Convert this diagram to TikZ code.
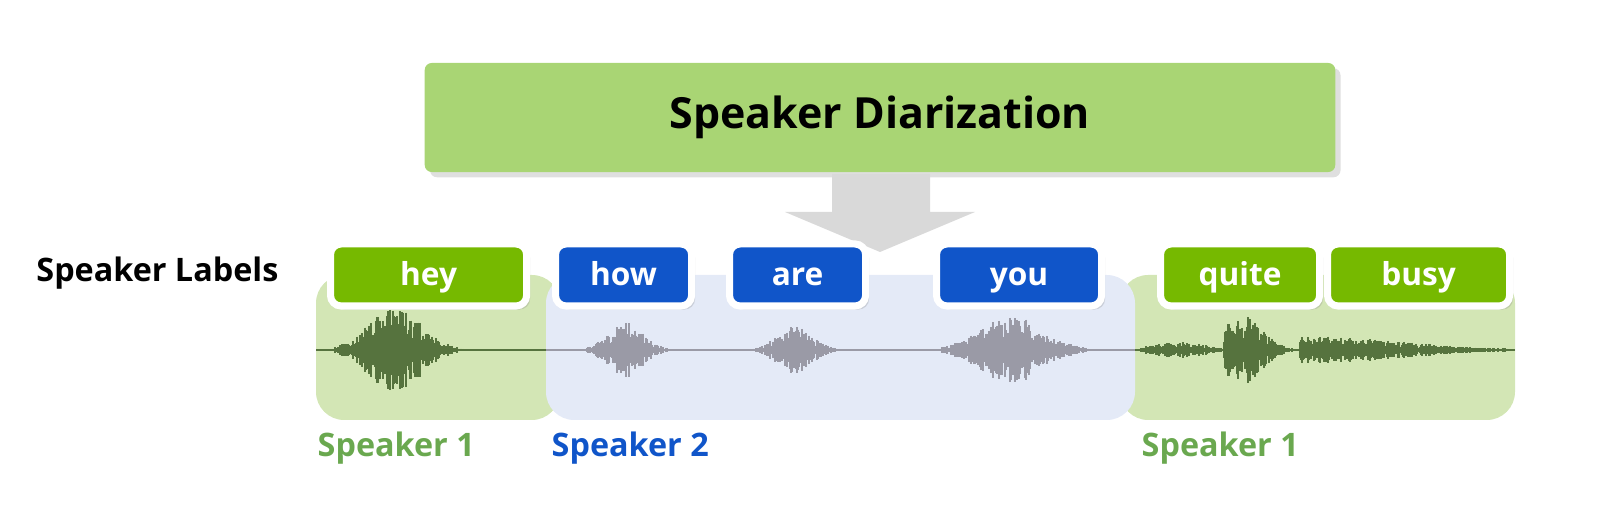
\documentclass[tikz,border=0pt]{standalone}
\usepackage{fontspec}
\setmainfont{Open Sans}
\usetikzlibrary{shadows}
\definecolor{nvgreen}{HTML}{76B900}
\definecolor{boxgreen}{HTML}{A9D574}
\definecolor{bggreen}{HTML}{D3E6B5}
\definecolor{bgblue}{HTML}{E4EAF7}
\definecolor{wordblue}{HTML}{1055C9}
\definecolor{labgreen}{HTML}{6AA84F}
\definecolor{wavegreen}{HTML}{56733E}
\definecolor{wavegray}{HTML}{9A9AA6}
\begin{document}
\begin{tikzpicture}[x=0.01cm,y=-0.01cm]
  \tikzset{region/.style={rounded corners=8pt}}
  \tikzset{word/.style={draw=white,line width=2pt,rounded corners=3pt,text=white,
      font=\bfseries\fontsize{9}{11}\selectfont,minimum height=0.5cm,anchor=west,
      text height=1.6ex,text depth=.45ex,
      drop shadow={opacity=.25,shadow xshift=1pt,shadow yshift=-1pt}}}
  \tikzset{spk/.style={anchor=west,font=\bfseries\fontsize{9.2}{11}\selectfont}}
  \newcommand{\burst}[6]{% from, to, centre, width, amplitude, colour
    \foreach \x in {#1,...,#2}{
      \pgfmathsetmacro{\amp}{#5*exp(-((\x-#3)/#4)^2)*(0.3+0.7*rnd)}
      \draw[#6,line width=.5pt] (\x,350-\amp) -- (\x,350+\amp);
    }}
  % background regions
  \fill[bggreen,region] (316,275) rectangle (560,420);
  \fill[bggreen,region] (1120,275) rectangle (1515,420);
  \fill[bgblue,region] (546,275) rectangle (1135,420);
  % diarization box and arrow
  \node[fill=boxgreen,minimum width=9.1cm,minimum height=1.09cm,rounded corners=2pt,
    drop shadow={opacity=.25,shadow xshift=1.5pt,shadow yshift=-1.5pt},
    font=\bfseries\fontsize{12.2}{15}\selectfont]
    (diar) at (880,117.5) {Speaker Diarization};
  \fill[black!15] (832,174) -- (930,174) -- (930,212) -- (975,212) -- (880,252)
    -- (785,212) -- (832,212) -- cycle;
  % waveforms
  \pgfmathsetseed{7}
  \draw[wavegreen,line width=.6pt] (316,350) -- (546,350);
  \draw[wavegray,line width=.6pt] (546,350) -- (1135,350);
  \draw[wavegreen,line width=.6pt] (1135,350) -- (1515,350);
  \burst{335}{465}{395}{38}{42}{wavegreen}
  \burst{585}{668}{625}{25}{28}{wavegray}
  \burst{752}{842}{795}{25}{24}{wavegray}
  \burst{940}{1088}{1012}{45}{34}{wavegray}
  \burst{1140}{1222}{1180}{40}{8}{wavegreen}
  \burst{1224}{1300}{1240}{30}{36}{wavegreen}
  \burst{1300}{1510}{1300}{140}{14}{wavegreen}
  % labels
  \node[spk] (lab) at (24,273) {Speaker Labels};
  \node[word,fill=nvgreen,minimum width=1.96cm] (hey) at (327,275) {hey};
  \node[word,fill=wordblue,minimum width=1.36cm] (how) at (552,275) {how};
  \node[word,fill=wordblue,minimum width=1.36cm] (are) at (726,275) {are};
  \node[word,fill=wordblue,minimum width=1.65cm] (you) at (933,275) {you};
  \node[word,fill=nvgreen,minimum width=1.59cm] (quite) at (1157,275) {quite};
  \node[word,fill=nvgreen,minimum width=1.82cm] (busy) at (1324,275) {busy};
  \node[spk,text=labgreen,inner sep=0pt] (s1a) at (317,448) {Speaker 1};
  \node[spk,text=wordblue,inner sep=0pt] (s2) at (551,448) {Speaker 2};
  \node[spk,text=labgreen,inner sep=0pt] (s1b) at (1141,448) {Speaker 1};
  \pgfresetboundingbox
  \useasboundingbox (0,0) rectangle (1599,525);
\end{tikzpicture}
\end{document}
